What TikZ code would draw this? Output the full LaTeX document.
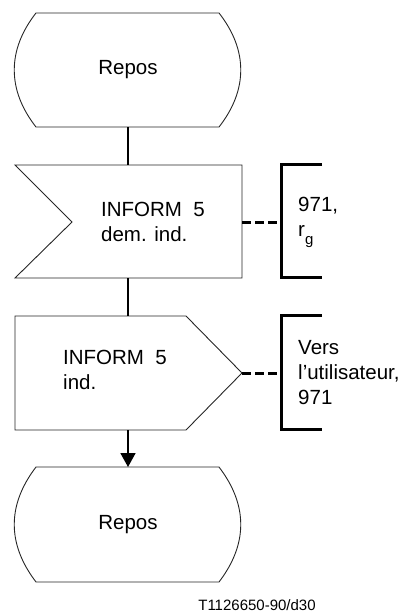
\documentclass[tikz,border=0pt]{standalone}
\usepackage{fontspec}
\setmainfont{Liberation Sans}
\usetikzlibrary{arrows.meta}
\begin{document}
\begin{tikzpicture}[x=1pt,y=-1pt,
    outline/.style={draw=black!85,line width=0.9pt},
    flow/.style={line width=1.8pt},
    bracket/.style={line width=3pt},
    link/.style={line width=3pt,dash pattern=on 9pt off 4pt},
    txt/.style={inner sep=0pt,align=left,anchor=west,font=\fontsize{20.5}{25}\selectfont}]
  \useasboundingbox (0,0) rectangle (402,615);
  % states
  \draw[outline] (36,13) -- (219,13) .. controls (248,50) and (248,90) .. (219,127)
    -- (36,127) .. controls (7,90) and (7,50) .. cycle;
  \node[txt,anchor=center] (repos1) at (128,70) {Repos};
  \draw[outline] (36,467) -- (219,467) .. controls (248,505) and (248,544) .. (219,582)
    -- (36,582) .. controls (7,544) and (7,505) .. cycle;
  \node[txt,anchor=center] (repos2) at (128,525) {Repos};
  % input
  \draw[outline] (15,165) -- (242,165) -- (242,278) -- (15,278) -- (72,222) -- cycle;
  \node[txt] (in1) at (101,222) {INFORM\ \ 5\\dem. ind.};
  % output
  \draw[outline] (15,316) -- (186,316) -- (242,373) -- (186,430) -- (15,430) -- cycle;
  \node[txt] (out1) at (63,370) {INFORM\ \ 5\\ind.};
  % comments
  \draw[bracket] (322,164) -- (281,164) -- (281,277) -- (322,277);
  \node[txt] (com1) at (298,222) {971,\\r\raisebox{-0.4em}{\fontsize{15}{15}\selectfont g}};
  \draw[bracket] (322,315) -- (281,315) -- (281,429) -- (322,429);
  \node[txt] (com2) at (298,373) {Vers\\l’utilisateur,\\971};
  \coordinate (repos1s) at (128,127);
  \coordinate (in1n) at (128,165);
  \coordinate (in1s) at (128,278);
  \coordinate (in1e) at (242,222);
  \coordinate (out1n) at (128,316);
  \coordinate (out1s) at (128,430);
  \coordinate (out1e) at (242,373);
  \coordinate (repos2n) at (128,467);
  \coordinate (com1w) at (281,222);
  \coordinate (com2w) at (281,373);
  \begin{scope}[flow]
    \draw (repos1s) to (in1n);
    \draw (in1s) to (out1n);
    \draw[-{Triangle[length=14pt,width=15pt]}] (out1s) to (repos2n);
  \end{scope}
  \draw[link] (in1e) -- (com1w);
  \draw[link] (out1e) -- (com2w);
  \node[font=\fontsize{15}{18}\selectfont,inner sep=0pt] (tag) at (257,605) {T1126650-90/d30};
\end{tikzpicture}
\end{document}
